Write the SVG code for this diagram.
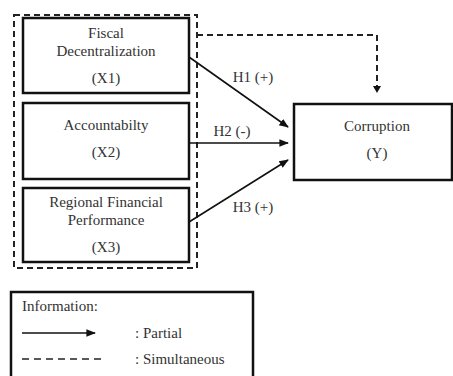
<svg xmlns="http://www.w3.org/2000/svg" width="453" height="376" viewBox="0 0 453 376">
<style>
.box{fill:#fff;stroke:#111;stroke-width:2.5}
text{font-family:"Liberation Serif","Times New Roman",serif;font-size:15px;fill:#333}
.t{text-anchor:middle}
.ln{stroke:#111;stroke-width:1.6;fill:none}
.dash{stroke:#222;stroke-width:2;fill:none;stroke-dasharray:6 4}
</style>
<defs>
<marker id="ah" viewBox="0 0 10 10" refX="9" refY="5" markerWidth="6" markerHeight="6" orient="auto" markerUnits="strokeWidth">
<path d="M0,1 L10,5 L0,9 z" fill="#111"/>
</marker>
</defs>
<rect width="453" height="376" fill="#fff"/>
<g id="group-box">
<rect x="14" y="15" width="183" height="253" class="dash"/>
</g>
<g id="x1">
<rect x="23" y="18" width="166" height="75" class="box"/>
<text class="t" x="106" y="38">Fiscal</text>
<text class="t" x="106" y="56">Decentralization</text>
<text class="t" x="106" y="83">(X1)</text>
</g>
<g id="x2">
<rect x="23" y="103" width="166" height="76" class="box"/>
<text class="t" x="106" y="130">Accountabilty</text>
<text class="t" x="106" y="157">(X2)</text>
</g>
<g id="x3">
<rect x="23" y="188" width="166" height="74" class="box"/>
<text class="t" x="106" y="207">Regional Financial</text>
<text class="t" x="106" y="225">Performance</text>
<text class="t" x="106" y="252">(X3)</text>
</g>
<g id="y">
<rect x="294" y="104" width="158" height="76" class="box"/>
<text class="t" x="377" y="131">Corruption</text>
<text class="t" x="377" y="158">(Y)</text>
</g>
<g id="connectors">
<line class="ln" x1="189" y1="57" x2="288" y2="127" marker-end="url(#ah)"/>
<line class="ln" x1="189" y1="143" x2="288" y2="143" marker-end="url(#ah)"/>
<line class="ln" x1="189" y1="222" x2="288" y2="160" marker-end="url(#ah)"/>
<path class="dash" d="M197,35 H377 V86"/>
<path d="M373,86 L381,86 L377,93 z" fill="#111"/>
<text class="t" x="253" y="82">H1 (+)</text>
<text class="t" x="232" y="136">H2 (-)</text>
<text class="t" x="253" y="212">H3 (+)</text>
</g>
<g id="legend">
<rect x="11" y="292" width="242" height="90" class="box"/>
<text x="22" y="311">Information:</text>
<line class="ln" x1="22" y1="333" x2="95" y2="333" marker-end="url(#ah)"/>
<text x="135" y="338">: Partial</text>
<line x1="22" y1="359" x2="105" y2="359" stroke="#222" stroke-width="1.6" stroke-dasharray="7 5"/>
<text x="135" y="364">: Simultaneous</text>
</g>
</svg>
